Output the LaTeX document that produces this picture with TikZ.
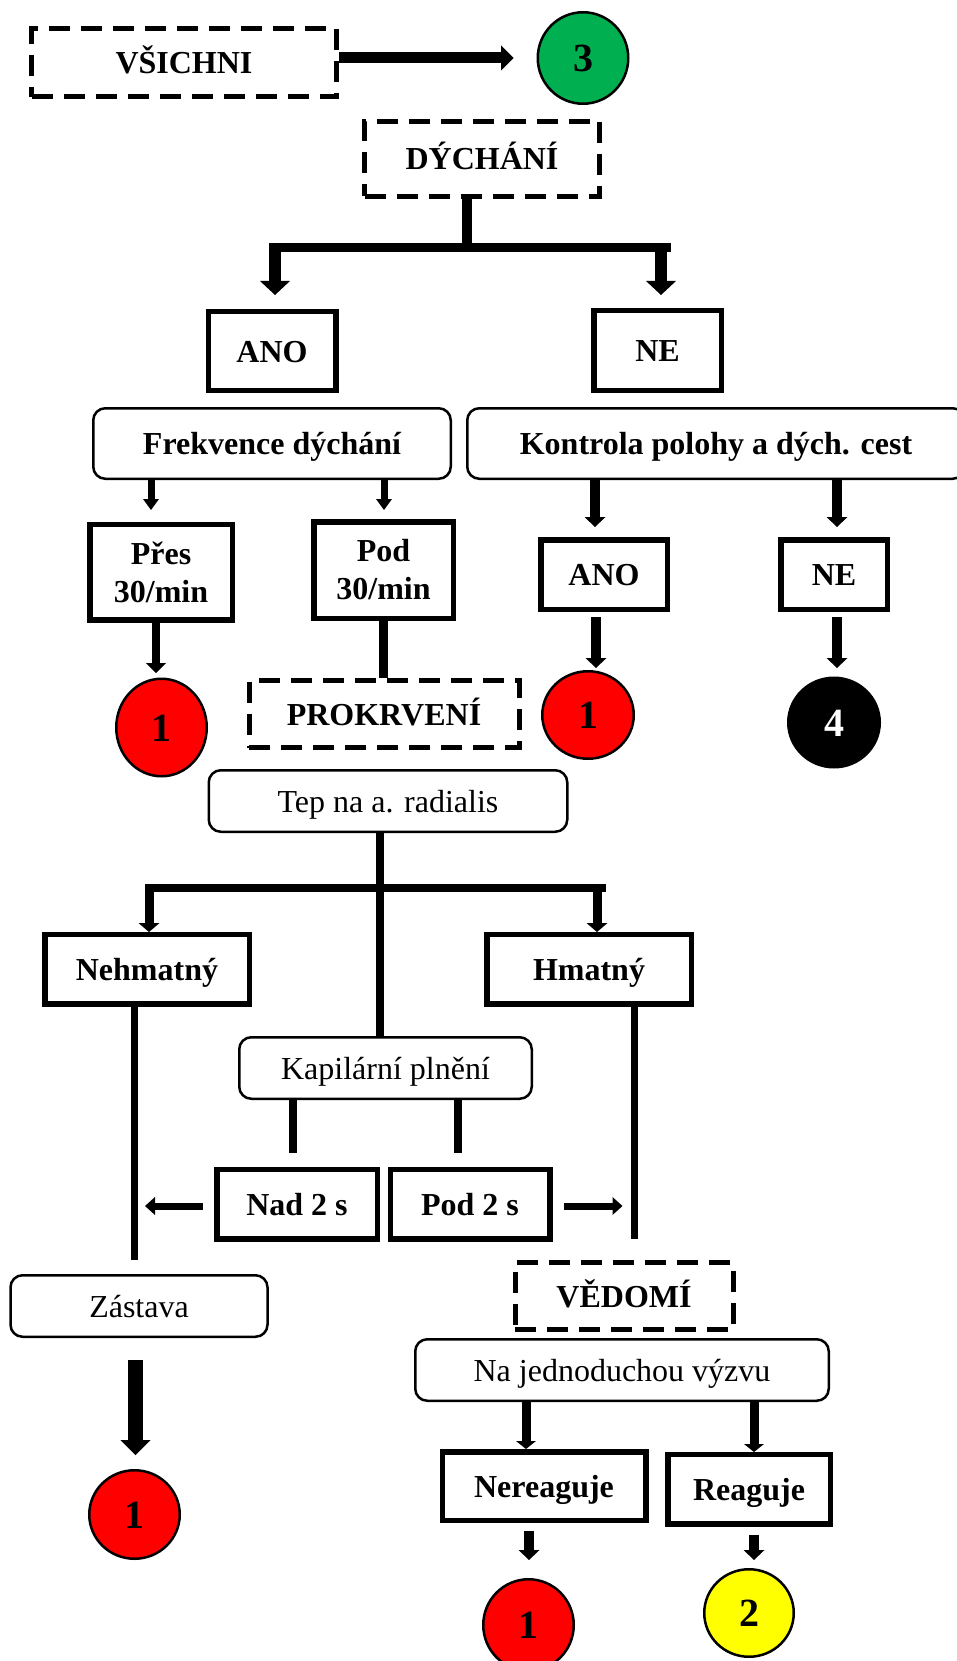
\documentclass[tikz,border=0pt]{standalone}
\usepackage{fontspec}
\setmainfont{Liberation Serif}
\usetikzlibrary{arrows.meta,shapes.geometric,calc}
\definecolor{tgreen}{HTML}{00B050}
\definecolor{tred}{HTML}{FF0000}
\definecolor{tyellow}{HTML}{FFFF00}
\tikzset{
  txtbase/.style={inner sep=0pt, font=\fontsize{32}{38}\selectfont\bfseries, text height=22pt, text depth=0pt, align=center},
  sbox/.style={txtbase, draw, line width=5.5pt, rectangle},
  dbox/.style={txtbase, draw, line width=5pt, dash pattern=on 21pt off 11pt},
  rbox/.style={txtbase, draw, line width=2.5pt, rounded corners=12pt},
  nbox/.style={rbox, font=\fontsize{32}{38}\selectfont},
  disc/.style={ellipse, draw, line width=2.5pt, inner sep=0pt, font=\fontsize{40}{40}\selectfont\bfseries, text height=27pt, text depth=0pt},
  link/.style={line width=#1},
  fat/.style n args={3}{line width=#1, -{Triangle[width=#2, length=#3, line width=0pt]}}
}
\begin{document}
\begin{tikzpicture}[x=1pt,y=-1pt]
\useasboundingbox (0,0) rectangle (957,1661);
% nodes
\node[dbox, minimum width=305, minimum height=68] (vsichni) at (184,63) {VŠICHNI};
\node[disc, fill=tgreen, minimum width=90.5, minimum height=91.5] (g3) at (583,58) {3};
\node[dbox, minimum width=235, minimum height=75] (dych) at (482,159) {DÝCHÁNÍ};
\node[sbox, minimum width=127.5, minimum height=78.5] (ano1) at (272,351) {ANO};
\node[sbox, minimum width=127.5, minimum height=79.5] (ne1) at (657.5,350.5) {NE};
\node[rbox, minimum width=357.5, minimum height=70.5] (frek) at (272,443.5) {Frekvence dýchání};
\node[rbox, minimum width=497.5, minimum height=70.5] (kontr) at (716,443.5) {Kontrola polohy a dých. cest};
\node[sbox, text height=, text depth=, minimum width=142.5, minimum height=95.5] (pres) at (161,572) {Přes\\30/min};
\node[sbox, text height=, text depth=, minimum width=139.5, minimum height=96.5] (pod) at (383.5,570) {Pod\\30/min};
\node[disc, fill=tred, minimum width=90.5, minimum height=97.5] (r1a) at (161.5,727.5) {1};
\node[dbox, minimum width=270, minimum height=67] (prok) at (384,714) {PROKRVENÍ};
\node[sbox, minimum width=126.5, minimum height=69.5] (ano2) at (604,574.5) {ANO};
\node[sbox, minimum width=106.5, minimum height=69.5] (ne2) at (834,574.5) {NE};
\node[disc, fill=tred, minimum width=91.5, minimum height=87.5] (r1b) at (588,715) {1};
\node[disc, fill=black, text=white, minimum width=91.5, minimum height=89.5] (b4) at (834,722.5) {4};
\node[nbox, minimum width=358.5, minimum height=61.5] (tep) at (388,801) {Tep na a. radialis};
\node[sbox, minimum width=204.5, minimum height=69.5] (nehm) at (147,969) {Nehmatný};
\node[sbox, minimum width=204.5, minimum height=69.5] (hmat) at (589,969) {Hmatný};
\node[nbox, minimum width=292.5, minimum height=61.5] (kap) at (385.5,1068) {Kapilární plnění};
\node[sbox, minimum width=160.5, minimum height=69.5] (nad) at (297,1204) {Nad 2 s};
\node[sbox, minimum width=159.5, minimum height=69.5] (pod2) at (470,1204) {Pod 2 s};
\node[nbox, minimum width=257, minimum height=61.5] (zast) at (139,1306) {Zástava};
\node[dbox, minimum width=218, minimum height=67] (ved) at (624,1296) {VĚDOMÍ};
\node[nbox, minimum width=413.5, minimum height=61.5] (vyzva) at (622,1370) {Na jednoduchou výzvu};
\node[sbox, minimum width=203.5, minimum height=68.5] (nere) at (544,1486) {Nereaguje};
\node[sbox, minimum width=162.5, minimum height=69.5] (reag) at (749,1489) {Reaguje};
\node[disc, fill=tred, minimum width=90.5, minimum height=88.5] (r1c) at (134.5,1514.5) {1};
\node[disc, fill=tred, minimum width=90.5, minimum height=91.5] (r1d) at (528.5,1625) {1};
\node[disc, fill=tyellow, minimum width=89.5, minimum height=87.5] (y2) at (749,1613) {2};
% coordinates
\coordinate (a3) at (513.5,58);
\coordinate (j1) at (467,248);
\coordinate (bL) at (269,248);
\coordinate (bR) at (671,248);
\coordinate (aL1) at (275,295);
\coordinate (aR1) at (661,295);
\coordinate (fL) at (151,510);
\coordinate (fR) at (384,510);
\coordinate (pr1) at (156,673);
\coordinate (kL) at (595,527);
\coordinate (kR) at (837,527);
\coordinate (an2) at (596,668);
\coordinate (ne4) at (837,668);
\coordinate (t1) at (379.5,888);
\coordinate (tL) at (144.6,888);
\coordinate (tR) at (606,888);
\coordinate (tLa) at (149,932);
\coordinate (tRa) at (597,932);
\coordinate (nE) at (134,1260);
\coordinate (hE) at (634,1239);
\coordinate (kL2) at (293,1153);
\coordinate (kR2) at (458,1153);
\coordinate (nadA) at (145,1206);
\coordinate (podA) at (622.5,1206);
\coordinate (zA) at (135.5,1455);
\coordinate (vL) at (526,1449);
\coordinate (vR) at (754,1452);
\coordinate (nrA) at (529,1560);
\coordinate (rgA) at (754,1560);
% connectors
\draw[fat={11pt}{25pt}{12.5pt}] (vsichni.east |- a3) -- (a3);
\draw[link=10pt] (dych.south -| j1) -- (j1);
\draw[link=9pt] (bL) -- (bR);
\draw[fat={12pt}{30pt}{14pt}] ($(bL -| aL1)+(0,-4)$) -- (aL1);
\draw[fat={12pt}{30pt}{14pt}] ($(bR -| aR1)+(0,-4)$) -- (aR1);
\draw[fat={7pt}{16pt}{11pt}] (frek.south -| fL) -- (fL);
\draw[fat={7pt}{16pt}{11pt}] (frek.south -| fR) -- (fR);
\draw[fat={8pt}{20pt}{10pt}] (pres.south -| pr1) -- (pr1);
\draw[link=9pt] (pod.south) -- (pod.south |- prok.north);
\draw[fat={10pt}{21pt}{10pt}] (kontr.south -| kL) -- (kL);
\draw[fat={10pt}{21pt}{10pt}] (kontr.south -| kR) -- (kR);
\draw[fat={10pt}{21pt}{10pt}] ($(ano2.south -| an2)+(0,5)$) -- (an2);
\draw[fat={10pt}{21pt}{10pt}] ($(ne2.south -| ne4)+(0,5)$) -- (ne4);
\draw[link=8pt] (tep.south -| t1) -- (t1 |- kap.north);
\draw[link=8pt] (tL) -- (tR);
\draw[fat={9pt}{21pt}{9pt}] ($(tL -| tLa)+(0,-4)$) -- (tLa);
\draw[fat={9pt}{21pt}{9pt}] ($(tR -| tRa)+(0,-4)$) -- (tRa);
\draw[link=7pt] (nehm.south -| nE) -- (nE);
\draw[link=7pt] (hmat.south -| hE) -- (hE);
\draw[link=8pt] (kap.south -| kL2) -- (kL2);
\draw[link=8pt] (kap.south -| kR2) -- (kR2);
\draw[fat={7pt}{18pt}{10pt}] ($(nad.west |- nadA)+(-11,0)$) -- (nadA);
\draw[fat={7pt}{18pt}{10pt}] ($(pod2.east |- podA)+(11,0)$) -- (podA);
\draw[fat={15pt}{30pt}{15pt}] ($(zast.south -| zA)+(0,22)$) -- (zA);
\draw[fat={9pt}{20pt}{8pt}] (vyzva.south -| vL) -- (vL);
\draw[fat={9pt}{20pt}{8pt}] (vyzva.south -| vR) -- (vR);
\draw[fat={10pt}{21pt}{10pt}] ($(nere.south -| nrA)+(0,8)$) -- (nrA);
\draw[fat={10pt}{21pt}{10pt}] ($(reag.south -| rgA)+(0,8)$) -- (rgA);
\end{tikzpicture}
\end{document}
